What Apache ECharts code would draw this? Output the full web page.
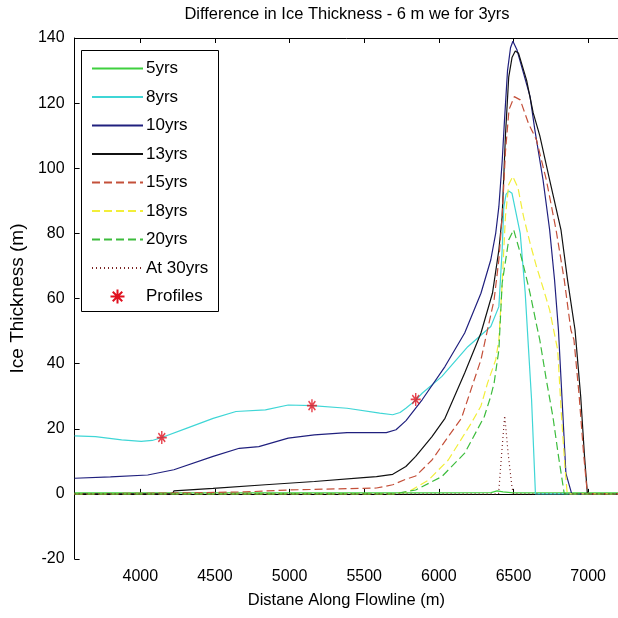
<!DOCTYPE html>
<html>
<head>
<meta charset="utf-8">
<script src="https://cdn.jsdelivr.net/npm/echarts@6/dist/echarts.min.js"></script>
<style>html,body{margin:0;padding:0;background:#fff;}#c{width:618px;height:618px;}</style>
</head>
<body>
<div id="c"></div>
<script>
const FONT = '"Liberation Sans", Arial, sans-serif';
const titleText = 'Difference in Ice Thickness - 6 m we for 3yrs';
const xName = 'Distane Along Flowline (m)';
const yName = 'Ice Thickness (m)';
const xTicks = [4000, 4500, 5000, 5500, 6000, 6500, 7000];
const seriesNames = ['5yrs', '8yrs', '10yrs', '13yrs', '15yrs', '18yrs', '20yrs', 'At 30yrs', 'Profiles'];

const yrs5 = [[3560,0.3],[4500,0.3],[5500,0.3],[6000,0.3],[6350,0.4],[6390,0.9],[6430,0.6],[6500,0.3],[7200,0.3]];
const yrs8 = [[3560,17.8],[3700,17.6],[3875,16.6],[4006,16.1],[4080,16.4],[4144,17.3],[4313,20.2],[4488,23.2],[4641,25.3],[4838,25.8],[4991,27.3],[5150,27.1],[5385,26.3],[5604,24.8],[5691,24.3],[5740,25],[5779,26.3],[5845,28.8],[5888,30.9],[6019,36],[6194,45.2],[6348,51.4],[6402,57.5],[6424,74.9],[6435,88],[6450,92],[6468,93],[6490,92.3],[6545,80],[6578,62],[6600,45],[6621,29],[6647,0],[7200,0]];
const yrs10 = [[3560,4.8],[3800,5.2],[4050,5.8],[4225,7.4],[4488,11.5],[4663,14],[4794,14.5],[4991,17.1],[5166,18.1],[5385,18.8],[5648,18.8],[5713,19.7],[5780,22.5],[5888,28.9],[6041,39.1],[6173,49.4],[6282,61.6],[6348,71.9],[6381,80.1],[6402,88.2],[6424,102],[6440,115],[6460,130],[6480,137],[6496,139],[6523,136.4],[6567,129.2],[6611,122],[6643,111.8],[6698,96.4],[6742,81.1],[6775,65.7],[6801,50.4],[6830,25],[6851,6.3],[6890,0],[7200,0]];
const yrs13 = [[3560,0],[4216,0],[4225,0.9],[4488,1.7],[4838,2.8],[5166,3.8],[5494,5],[5582,5.3],[5691,6],[5779,8.4],[5845,11.5],[5954,17.6],[6041,23.2],[6173,37.1],[6282,49.4],[6359,61.6],[6402,74.9],[6424,85.2],[6446,110],[6468,128],[6490,134],[6512,136],[6534,135.3],[6588,127],[6632,117],[6676,110],[6742,96.4],[6818,81.1],[6862,65.7],[6912,50.4],[6950,30],[6975,12],[6995,0],[7200,0]];
const yrs15 = [[3560,0],[4300,0.3],[4700,0.6],[4991,1.2],[5494,1.7],[5582,1.8],[5691,2.8],[5779,4.5],[5845,5.5],[5954,10.4],[6063,17.6],[6151,23.2],[6282,41.2],[6370,59.6],[6402,71.9],[6424,85.2],[6446,105],[6470,118],[6505,122],[6545,121],[6600,113.8],[6654,108.7],[6720,96.4],[6785,81.1],[6840,65.7],[6884,50.4],[6905,47.3],[6940,30],[6970,12],[6995,0],[7200,0]];
const yrs18 = [[3560,0],[5700,0],[5800,0.7],[5932,4.3],[6063,10.4],[6217,21.7],[6282,27],[6326,34],[6381,41.2],[6402,47.3],[6424,64.7],[6446,85.2],[6468,95],[6495,97.5],[6530,94],[6567,85.2],[6611,77],[6654,69.8],[6700,63],[6742,56.5],[6796,44.2],[6820,25],[6845,8],[6860,0],[7200,0]];
const yrs20 = [[3560,0],[5700,0],[5845,1.2],[6020,5.3],[6173,12.5],[6304,23.7],[6348,30],[6370,34],[6402,44.2],[6424,64.7],[6468,78],[6501,81.1],[6545,74],[6578,68],[6611,61.6],[6654,52],[6676,47.3],[6720,35],[6764,23.7],[6800,12],[6840,0],[7200,0]];
const yrs30 = [[3560,0],[6400,0],[6420,12],[6441,24],[6465,12],[6490,2],[6500,0],[7200,0]];
const profiles = [[4144,17.3],[5150,27.1],[5845,29]];

const colors = ['#3fd03f', '#3fd6d6', '#20207e', '#111111', '#c4503a', '#f2ee3a', '#3cbc3c', '#7a2424', '#e0101e'];

function lineSeries(name, data, color, type) {
  return {
    name: name, type: 'line', data: data, symbol: 'none', smooth: false,
    lineStyle: { color: color, width: 1.2, type: type },
    itemStyle: { color: color },
    z: 3
  };
}

const legendData = seriesNames.map(function (n) {
  return n === 'Profiles' ? { name: n, itemStyle: { opacity: 1 } } : { name: n, itemStyle: { opacity: 0 } };
});

const chart = echarts.init(document.getElementById('c'), null, { renderer: 'canvas' });
const axisTxt = { color: '#000', fontFamily: FONT, fontSize: 16 };
chart.setOption({
  animation: false,
  backgroundColor: '#fff',
  grid: { left: 72, top: 38, right: -9, bottom: 59, containLabel: false },
  graphic: [
    { type: 'text', x: 347, y: 6, style: { text: titleText, fill: '#000', font: '16.5px ' + FONT, textAlign: 'center', textVerticalAlign: 'top' } },
    { type: 'rect', shape: { x: 81.5, y: 50.5, width: 137, height: 261 }, style: { fill: 'none', stroke: '#000', lineWidth: 1 }, z: 10 }
  ],
  legend: {
    orient: 'vertical', left: 91, top: 60, padding: 0,
    itemWidth: 51, itemHeight: 14, itemGap: 11.5,
    textStyle: { color: '#000', fontFamily: FONT, fontSize: 17, padding: [0, 0, 0, -2] },
    data: legendData, selectedMode: false, z: 11
  },
  xAxis: [{
    type: 'value', min: 3560, max: 7200, position: 'bottom',
    name: xName, nameLocation: 'middle', nameGap: 33,
    nameTextStyle: { color: '#000', fontFamily: FONT, fontSize: 16.5 },
    axisLine: { lineStyle: { color: '#000', width: 1 } },
    axisTick: { inside: true, length: 5, customValues: xTicks, lineStyle: { color: '#000' } },
    axisLabel: Object.assign({ margin: 10, customValues: xTicks, formatter: function (v) { return String(v); } }, axisTxt),
    splitLine: { show: false }
  }, {
    type: 'value', min: 3560, max: 7200, position: 'top',
    axisLine: { lineStyle: { color: '#000', width: 1 } },
    axisTick: { inside: true, length: 5, customValues: xTicks, lineStyle: { color: '#000' } },
    axisLabel: { show: false },
    splitLine: { show: false }
  }],
  yAxis: [{
    type: 'value', min: -20, max: 140, interval: 20, position: 'left',
    name: yName, nameLocation: 'middle', nameGap: 42,
    nameTextStyle: { color: '#000', fontFamily: FONT, fontSize: 19 },
    axisLine: { show: true, lineStyle: { color: '#000', width: 1 } },
    axisTick: { show: true, inside: true, length: 5, lineStyle: { color: '#000' } },
    axisLabel: Object.assign({ margin: 10, formatter: function (v) { return String(v); } }, axisTxt),
    splitLine: { show: false }
  }],
  series: [
    lineSeries('5yrs', yrs5, colors[0], 'solid'),
    lineSeries('8yrs', yrs8, colors[1], 'solid'),
    lineSeries('10yrs', yrs10, colors[2], 'solid'),
    lineSeries('13yrs', yrs13, colors[3], 'solid'),
    lineSeries('15yrs', yrs15, colors[4], [8, 4]),
    lineSeries('18yrs', yrs18, colors[5], [8, 4]),
    lineSeries('20yrs', yrs20, colors[6], [8, 4]),
    lineSeries('At 30yrs', yrs30, colors[7], [1, 3]),
    {
      name: 'Profiles', type: 'scatter', data: profiles,
      symbol: 'path://M5,0L5,10M0,5L10,5M1.6,1.6L8.4,8.4M1.6,8.4L8.4,1.6',
      symbolSize: [10, 13], symbolKeepAspect: false,
      itemStyle: { color: colors[8], borderColor: colors[8], borderWidth: 1.6 },
      z: 5
    }
  ]
});
</script>
</body>
</html>
